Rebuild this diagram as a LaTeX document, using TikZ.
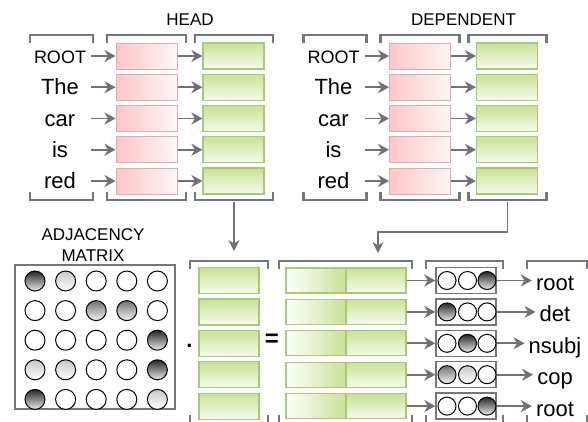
\documentclass[tikz,border=0pt]{standalone}
\usepackage{fontspec}
\setmainfont{Liberation Sans}
\usetikzlibrary{arrows.meta,positioning,calc}

\definecolor{arrgray}{HTML}{6D7278}
\definecolor{brkgray}{HTML}{72777D}
\definecolor{redline}{HTML}{E0AAAA}
\definecolor{redfill}{HTML}{FFC6C6}
\definecolor{redlight}{HTML}{FFF6F6}
\definecolor{greenline}{HTML}{A8C878}
\definecolor{greenfill}{HTML}{C8E296}
\definecolor{greenlight}{HTML}{F6FBEC}

% bracket above (ticks down) and below (ticks up)
\newcommand{\brtop}[3]{\draw[brk] (#1,#3+8) -- (#1,#3) -- (#2,#3) -- (#2,#3+8);}
\newcommand{\brbot}[3]{\draw[brk] (#1,#3-8) -- (#1,#3) -- (#2,#3) -- (#2,#3-8);}

\begin{document}
\begin{tikzpicture}[x=1pt,y=-1pt,
    brk/.style={draw=brkgray, line width=2.6pt},
    arr/.style={draw=arrgray, line width=1.8pt, -{Stealth[length=11pt,width=12pt,inset=3.5pt]}},
    conn/.style={draw=arrgray, line width=1.3pt, -{Stealth[length=11pt,width=11pt,inset=3.5pt]}},
    redbox/.style={draw=redline, line width=1pt, left color=redfill, right color=redlight,
        minimum width=61pt, minimum height=26pt, inner sep=0pt},
    greenbox/.style={draw=greenline, line width=1.2pt, top color=greenfill, bottom color=greenlight,
        minimum width=61pt, minimum height=26pt, inner sep=0pt},
    halfbox/.style={draw=greenline, line width=1.2pt, minimum width=60pt, minimum height=25pt, inner sep=0pt},
    onehot/.style={draw=brkgray, line width=1.4pt, fill=white, minimum width=60pt, minimum height=26pt, inner sep=0pt},
    word/.style={anchor=base, minimum width=62pt, inner sep=0pt},
    title/.style={font=\fontsize{17}{21}\selectfont, align=center, inner sep=0pt},
    tag/.style={font=\fontsize{22}{22}\selectfont, anchor=base, inner xsep=4pt, inner ysep=0pt},
    bead/.style={circle, draw=black, line width=1pt, minimum size=20pt, inner sep=0pt},
    smallbead/.style={bead, minimum size=18pt},
    shw/.style={fill=white},
    shl/.style={top color=black!22, bottom color=white},
    shm/.style={top color=black!55, bottom color=black!5},
    shd/.style={top color=black!85, bottom color=black!8}]

\useasboundingbox (0,0) rectangle (588,421);

% head and dependent encoders
\foreach \p/\dx/\ttl in {h/0/HEAD, d/273.5/DEPENDENT} {
    \node[title] (\p title) at (190+\dx,20) {\ttl};
    \brtop{30+\dx}{93+\dx}{35}  \brbot{30+\dx}{93+\dx}{200}
    \brtop{107+\dx}{186+\dx}{35} \brbot{107+\dx}{186+\dx}{200}
    \brtop{195+\dx}{273+\dx}{35} \brbot{195+\dx}{273+\dx}{200}
    \foreach \w/\fs [count=\i] in {ROOT/18,The/22,car/22,is/22,red/22} {
        \pgfmathsetmacro{\ry}{56+31.25*(\i-1)}
        \node[redbox] (\p r\i) at (146.5+\dx,\ry) {};
        \node[greenbox] (\p g\i) at (233.5+\dx,\ry) {};
        \node[word, font=\fontsize{\fs}{\fs}\selectfont] (\p w\i) at (60+\dx,\ry+7.5) {\w};
        \draw[arr] (\p w\i.east |- \p r\i.west) -- (\p r\i.west);
        \draw[arr] (\p r\i.east) -- (\p g\i.west);
    }
}

% adjacency matrix
\node[title] (adjtitle) at (93,245.5) {ADJACENCY\\MATRIX};
\node[draw=brkgray, line width=1.3pt, minimum width=160pt, minimum height=144pt] (adj) at (95,337) {};
\foreach \row [count=\i] in {{shd,shl,shw,shw,shw},{shw,shw,shm,shm,shw},{shw,shw,shw,shw,shd},{shl,shl,shw,shw,shd},{shd,shw,shw,shw,shl}} {
    \foreach \c [count=\j] in \row {
        \node[bead, \c] (m\i\j) at ({35+30.6*(\j-1)},{281+29.6*(\i-1)}) {};
    }
}

\node[font=\fontsize{22}{22}\selectfont\bfseries, anchor=base, inner sep=0pt] (times) at (189.5,347.5) {.};
\node[font=\fontsize{24}{24}\selectfont\bfseries, inner sep=0pt] (equals) at (272,340) {=};

% brackets of the lower part
\brtop{190}{268}{261} \brbot{190}{268}{423}
\brtop{279}{412}{261} \brbot{279}{412}{423}
\brtop{426}{503}{261} \brbot{426}{503}{423}
\brtop{527}{587}{261} \brbot{527}{587}{423}

% scores and labels
\foreach \lab/\a/\b/\c [count=\i] in {root/shw/shw/shd, det/shd/shw/shw, nsubj/shw/shd/shw, cop/shm/shl/shw, root/shw/shw/shd} {
    \pgfmathsetmacro{\ry}{280.5+31.4*(\i-1)}
    \node[greenbox, minimum width=60pt] (v\i) at (229,\ry) {};
    \node[halfbox, left color=white, right color=greenfill] (cl\i) at (316,\ry) {};
    \node[halfbox, top color=greenfill, bottom color=greenlight] (cr\i) at (376,\ry) {};
    \node[onehot] (s\i) at (466,\ry) {};
    \node[smallbead, \a] (s\i a) at (447,\ry) {};
    \node[smallbead, \b] (s\i b) at (467.5,\ry) {};
    \node[smallbead, \c] (s\i c) at (487,\ry) {};
    \node[tag] (t\i) at (555,\ry+10) {\lab};
    \draw[arr] (cr\i.east) -- (s\i.west);
    \draw[arr] (s\i.east) -- (s\i.east -| t\i.west);
}

% connectors from the encoders
\coordinate (hgout) at (234,201.5);
\coordinate (vin) at (234,251);
\coordinate (dgout) at (507.5,201.5);
\coordinate (knee) at (378,232);
\coordinate (cin) at (378,253);
\draw[conn] (hgout) -- (vin);
\draw[conn] (dgout) |- (knee) -- (cin);
\end{tikzpicture}
\end{document}
